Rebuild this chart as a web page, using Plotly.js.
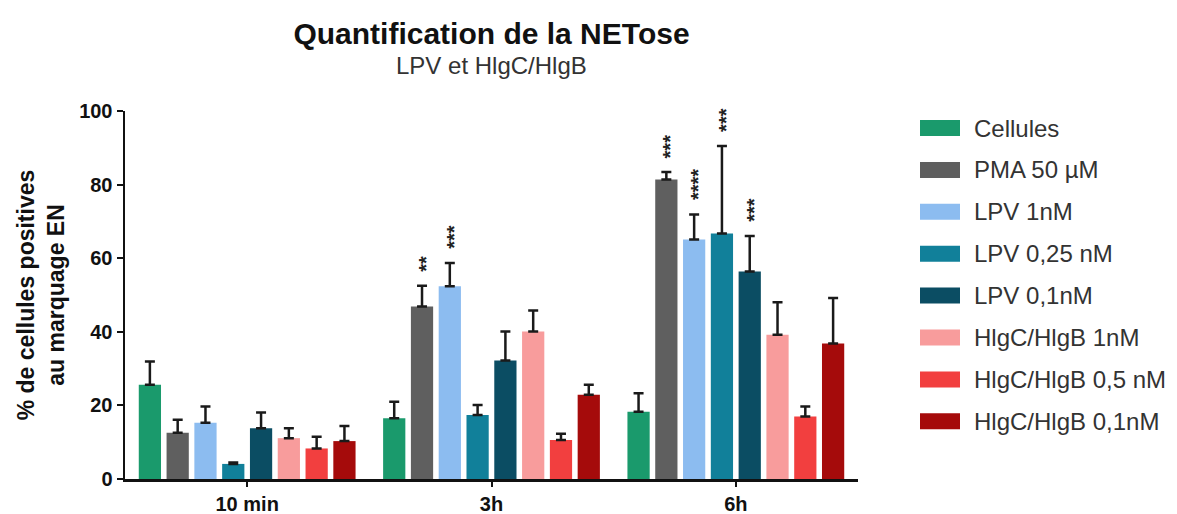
<!DOCTYPE html>
<html>
<head>
<meta charset="utf-8">
<script src="https://cdn.plot.ly/plotly-3.0.1.min.js"></script>
<style>html,body{margin:0;padding:0;background:#fff;}#chart{width:1177px;height:514px;}</style>
</head>
<body>
<div id="chart"></div>
<script>
// ---- data ----
const categories = ['10 min', '3h', '6h'];
const seriesNames = ['Cellules', 'PMA 50 µM', 'LPV 1nM', 'LPV 0,25 nM', 'LPV 0,1nM', 'HlgC/HlgB 1nM', 'HlgC/HlgB 0,5 nM', 'HlgC/HlgB 0,1nM'];
const seriesColors = ['#1a9a6c', '#5f5f5f', '#8cbcf0', '#11809a', '#0b4d63', '#f89c9c', '#f23f3f', '#a50b0b'];

const valCellules = [25.6, 16.5, 18.3];
const valPMA      = [12.6, 46.9, 81.4];
const valLPV1     = [15.3, 52.4, 65.1];
const valLPV025   = [4.1, 17.4, 66.7];
const valLPV01    = [13.8, 32.2, 56.4];
const valHlg1     = [11.1, 40.1, 39.2];
const valHlg05    = [8.3, 10.6, 17.0];
const valHlg01    = [10.3, 22.9, 36.8];

const errCellules = [6.3, 4.5, 5.0];
const errPMA      = [3.5, 5.6, 2.0];
const errLPV1     = [4.4, 6.3, 6.8];
const errLPV025   = [0.4, 2.7, 23.8];
const errLPV01    = [4.3, 7.9, 9.6];
const errHlg1     = [2.7, 5.7, 8.8];
const errHlg05    = [3.2, 1.7, 2.7];
const errHlg01    = [4.1, 2.7, 12.4];

const sigCellules = ['', '', ''];
const sigPMA      = ['', '**', '***'];
const sigLPV1     = ['', '***', '****'];
const sigLPV025   = ['', '', '***'];
const sigLPV01    = ['', '', '***'];
const sigHlg1     = ['', '', ''];
const sigHlg05    = ['', '', ''];
const sigHlg01    = ['', '', ''];

const allVals = [valCellules, valPMA, valLPV1, valLPV025, valLPV01, valHlg1, valHlg05, valHlg01];
const allErrs = [errCellules, errPMA, errLPV1, errLPV025, errLPV01, errHlg1, errHlg05, errHlg01];
const allSigs = [sigCellules, sigPMA, sigLPV1, sigLPV025, sigLPV01, sigHlg1, sigHlg05, sigHlg01];

// ---- layout constants ----
const FONT = 'Liberation Sans, Arial, Helvetica, sans-serif';
const W = 1177, H = 514;
const M = {l: 125, r: 319, t: 111, b: 35};
const plotW = W - M.l - M.r, plotH = H - M.t - M.b;
const BARGAP = 0.09, GROUPGAP = 0.2;
const slotPx = plotW / categories.length * (1 - BARGAP) / seriesNames.length;

const traces = seriesNames.map((name, i) => ({
  type: 'bar',
  name: name,
  x: categories,
  y: allVals[i],
  marker: {color: seriesColors[i], line: {width: 0}},
  error_y: {
    type: 'data', symmetric: false,
    array: allErrs[i],
    arrayminus: allErrs[i].map(() => 0),
    color: '#1a1a1a', thickness: 2.5, width: 5
  },
  showlegend: false,
  hoverinfo: 'x+y+name'
}));

const annotations = [];
// significance stars
allSigs.forEach((sigs, i) => {
  sigs.forEach((s, j) => {
    if (!s) return;
    annotations.push({
      x: categories[j], y: allVals[i][j] + allErrs[i][j],
      xref: 'x', yref: 'y',
      text: s, showarrow: false, textangle: -90,
      xanchor: 'center', yanchor: 'bottom',
      xshift: (i - (seriesNames.length - 1) / 2) * slotPx + 4,
      yshift: 12,
      font: {family: FONT, size: 20, color: '#222', weight: 'bold'}
    });
  });
});
// subtitle
annotations.push({
  x: 0.5, xref: 'paper', y: 1 + (M.t - 65) / plotH, yref: 'paper',
  xanchor: 'center', yanchor: 'middle', showarrow: false,
  text: 'LPV et HlgC/HlgB',
  font: {family: FONT, size: 24, color: '#333'}
});

// custom legend (wide swatches like the original)
const shapes = [];
const legX0 = 920, legX1 = 960, legTextX = 972, legY0 = 128, legStep = 41.9, swH = 16;
const px2x = p => (p - M.l) / plotW;
const py2y = p => (H - M.b - p) / plotH;
seriesNames.forEach((name, i) => {
  const cy = legY0 + i * legStep;
  shapes.push({
    type: 'rect', xref: 'paper', yref: 'paper',
    x0: px2x(legX0), x1: px2x(legX1), y0: py2y(cy + swH / 2), y1: py2y(cy - swH / 2),
    fillcolor: seriesColors[i], line: {width: 0}
  });
  annotations.push({
    x: px2x(legTextX), y: py2y(cy), xref: 'paper', yref: 'paper',
    xanchor: 'left', yanchor: 'middle', showarrow: false,
    text: name, font: {family: FONT, size: 24, color: '#333'}
  });
});

const layout = {
  width: W, height: H,
  margin: M,
  paper_bgcolor: '#fff', plot_bgcolor: '#fff',
  font: {family: FONT, color: '#111'},
  title: {
    text: 'Quantification de la NETose',
    font: {family: FONT, size: 30, weight: 'bold', color: '#111'},
    x: 0.5, xref: 'paper', xanchor: 'center',
    y: 1 - 33 / H, yref: 'container', yanchor: 'middle'
  },
  barmode: 'group',
  bargap: BARGAP, bargroupgap: GROUPGAP,
  showlegend: false,
  xaxis: {
    type: 'category',
    showline: true, linecolor: '#111', linewidth: 2.5,
    ticks: 'outside', ticklen: 5, tickwidth: 2, tickcolor: '#111',
    tickfont: {family: FONT, size: 20, weight: 'bold', color: '#111'},
    showgrid: false, zeroline: false, fixedrange: true
  },
  yaxis: {
    range: [0, 100], tickvals: [0, 20, 40, 60, 80, 100],
    showline: true, linecolor: '#111', linewidth: 2.5,
    ticks: 'outside', ticklen: 6, tickwidth: 2, tickcolor: '#111',
    tickfont: {family: FONT, size: 20, weight: 'bold', color: '#111'},
    showgrid: false, zeroline: false, fixedrange: true,
    title: {
      text: '% de cellules positives<br>au marquage EN',
      font: {family: FONT, size: 23, weight: 'bold', color: '#111'},
      standoff: 8
    }
  },
  annotations: annotations,
  shapes: shapes
};

Plotly.newPlot('chart', traces, layout, {displayModeBar: false, staticPlot: true});
</script>
</body>
</html>
